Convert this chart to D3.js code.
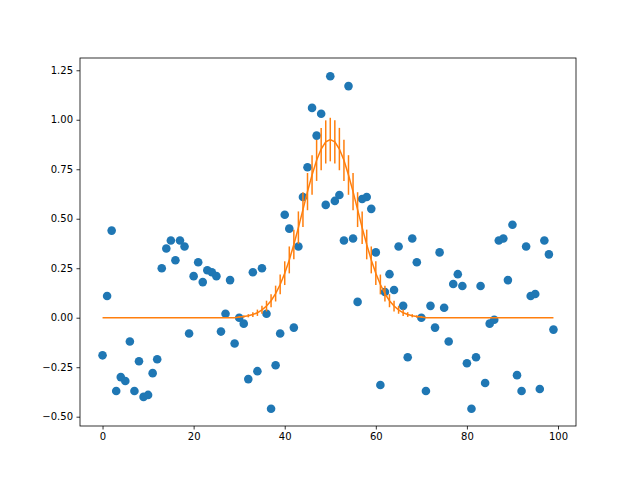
<!DOCTYPE html>
<html><head><meta charset="utf-8">
<script src="https://cdn.jsdelivr.net/npm/d3@7"></script>
<style>body{margin:0;background:#fff}text{font-family:"DejaVu Sans",sans-serif}</style>
</head><body><svg id="c" width="640" height="480"></svg>
<script>
const scatterY=[-0.19,0.11,0.44,-0.37,-0.30,-0.32,-0.12,-0.37,-0.22,-0.40,-0.39,-0.28,-0.21,0.25,0.35,0.39,0.29,0.39,0.36,-0.08,
0.21,0.28,0.18,0.24,0.23,0.21,-0.07,0.02,0.19,-0.13,0.00,-0.03,-0.31,0.23,-0.27,0.25,0.02,-0.46,-0.24,-0.08,
0.52,0.45,-0.05,0.36,0.61,0.76,1.06,0.92,1.03,0.57,1.22,0.59,0.62,0.39,1.17,0.40,0.08,0.60,0.61,0.55,
0.33,-0.34,0.13,0.22,0.14,0.36,0.06,-0.20,0.40,0.28,0.00,-0.37,0.06,-0.05,0.33,0.05,-0.12,0.17,0.22,0.16,
-0.23,-0.46,-0.20,0.16,-0.33,-0.03,-0.01,0.39,0.40,0.19,0.47,-0.29,-0.37,0.36,0.11,0.12,-0.36,0.39,0.32,-0.06];
const curveMid=[0,0,0,0,0,0,0,0,0,0,0,0,0,0,0,0,0,0,0,0,0,0,0,0,0,0,0,0,0,0,
0.004,0.006,0.010,0.016,0.025,0.040,0.059,0.086,0.122,0.168,0.225,0.292,0.370,0.455,0.546,0.637,0.721,0.795,0.852,0.888,
0.900,0.888,0.852,0.795,0.721,0.637,0.546,0.455,0.370,0.292,0.225,0.168,0.122,0.086,0.059,0.040,0.025,0.016,0.010,0.006,
0.004,0,0,0,0,0,0,0,0,0,0,0,0,0,0,0,0,0,0,0,0,0,0,0,0,0,0,0,0,0];
const curveErr=[0,0,0,0,0,0,0,0,0,0,0,0,0,0,0,0,0,0,0,0,0,0,0,0,0,0,0,0,0,0,
0.004,0.006,0.008,0.012,0.016,0.02,0.027,0.033,0.04,0.05,0.06,0.068,0.075,0.082,0.088,0.094,0.1,0.104,0.107,0.109,
0.11,0.109,0.107,0.104,0.1,0.094,0.088,0.082,0.075,0.068,0.06,0.05,0.04,0.033,0.027,0.02,0.016,0.012,0.008,0.006,
0.004,0,0,0,0,0,0,0,0,0,0,0,0,0,0,0,0,0,0,0,0,0,0,0,0,0,0,0,0,0];
const xTicks=[0,20,40,60,80,100];
const yTicks=[-0.5,-0.25,0,0.25,0.5,0.75,1.0,1.25];

const svg=d3.select("#c");
const L=80,R=576,T=58,B=426;
const x=d3.scaleLinear().domain([-4.95,103.95]).range([L,R]);
const y=d3.scaleLinear().domain([-0.547,1.312]).range([B,T]);
const g=svg.append("g");
g.selectAll("circle").data(scatterY).join("circle")
 .attr("cx",(d,i)=>x(i)).attr("cy",d=>y(d)).attr("r",4.3).attr("fill","#1f77b4");
g.append("path").datum(curveMid).attr("fill","none").attr("stroke","#ff7f0e").attr("stroke-width",1.5)
 .attr("d",d3.line().x((d,i)=>x(i)).y(d=>y(d)));
g.selectAll("line.err").data(curveMid).join("line").attr("class","err")
 .attr("x1",(d,i)=>x(i)).attr("x2",(d,i)=>x(i))
 .attr("y1",(d,i)=>y(d-curveErr[i])).attr("y2",(d,i)=>y(d+curveErr[i]))
 .attr("stroke","#ff7f0e").attr("stroke-width",1.5);
svg.append("rect").attr("x",L).attr("y",T).attr("width",R-L).attr("height",B-T)
 .attr("fill","none").attr("stroke","#000").attr("stroke-width",0.8);
const xa=svg.append("g").attr("transform",`translate(0,${B})`)
 .call(d3.axisBottom(x).tickValues(xTicks).tickSize(3.5).tickPadding(3.5).tickFormat(d3.format("d")));
const ya=svg.append("g").attr("transform",`translate(${L},0)`)
 .call(d3.axisLeft(y).tickValues(yTicks).tickSize(3.5).tickPadding(3.5).tickFormat(d3.format(".2f")));
[xa,ya].forEach(a=>{a.select(".domain").remove();a.selectAll("text").attr("font-size",10).attr("fill","#000").style("font-family","DejaVu Sans");a.selectAll("line").attr("stroke","#000").attr("stroke-width",0.8);});
</script></body></html>
